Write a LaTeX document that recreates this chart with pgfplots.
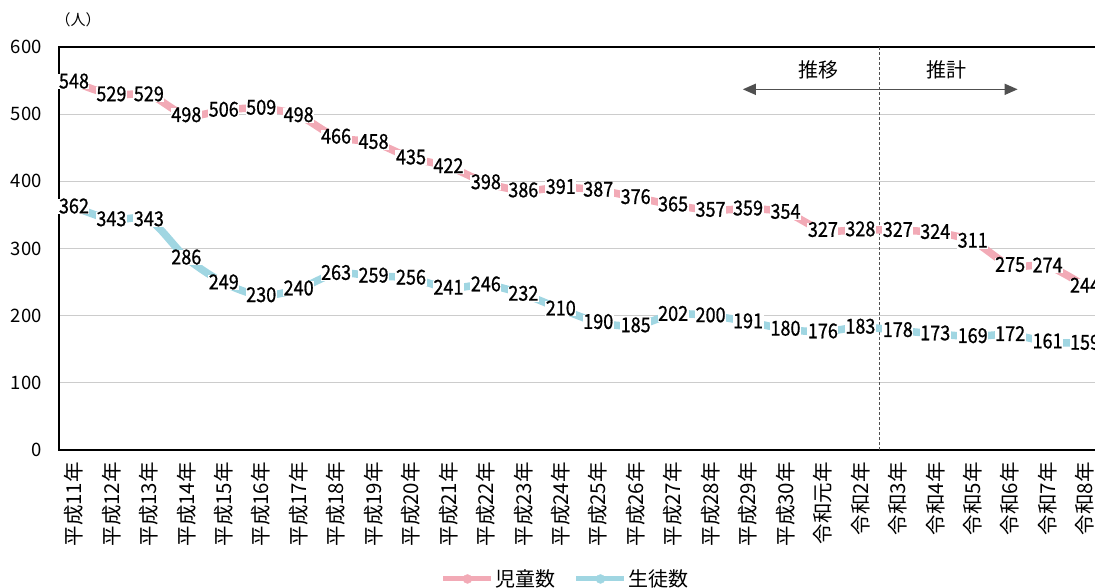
\documentclass[border=0pt]{standalone}
\usepackage{fontspec}
\setmainfont{Noto Sans CJK JP}
\newfontfamily\lblfont{Noto Sans CJK JP}[FakeStretch=0.88, FakeBold=0.8]
\usepackage{pgfplots}
\usepackage{pgfplotstable}
\pgfplotsset{compat=1.18}
\usetikzlibrary{arrows.meta}

\definecolor{pinkline}{RGB}{242,170,182}
\definecolor{blueline}{RGB}{160,214,226}
\definecolor{arrowgray}{RGB}{80,80,80}

% 児童数 / 生徒数 by year
\pgfplotstableread{
x jido seito
0  548 362
1  529 343
2  529 343
3  498 286
4  506 249
5  509 230
6  498 240
7  466 263
8  458 259
9  435 256
10 422 241
11 398 246
12 386 232
13 391 210
14 387 190
15 376 185
16 365 202
17 357 200
18 359 191
19 354 180
20 327 176
21 328 183
22 327 178
23 324 173
24 311 169
25 275 172
26 274 161
27 244 159
}\data

\tikzset{datalabel/.style={anchor=center, fill=white, inner xsep=0.5pt,
    inner ysep=1pt, text height=0.72em, text depth=0pt,
    text=black, font=\lblfont\fontsize{20.5}{24}\selectfont}}

\begin{document}
\fontsize{18}{21}\selectfont
\begin{tikzpicture}
\begin{axis}[
  scale only axis,
  width=1041pt, height=403pt,
  xmin=-0.4, xmax=27.4, ymin=0, ymax=600,
  ytick={0,100,...,600},
  xtick={0,...,27},
  xticklabels={平成11年,平成12年,平成13年,平成14年,平成15年,平成16年,平成17年,平成18年,平成19年,平成20年,平成21年,平成22年,平成23年,平成24年,平成25年,平成26年,平成27年,平成28年,平成29年,平成30年,令和元年,令和2年,令和3年,令和4年,令和5年,令和6年,令和7年,令和8年},
  xticklabel style={rotate=90, anchor=east, inner sep=0pt,
    font=\fontsize{20.5}{24}\selectfont},
  xticklabel shift=12pt,
  yticklabel style={anchor=east, inner sep=0pt,
    font=\fontsize{18.5}{21}\selectfont},
  yticklabel shift=17pt,
  major tick length=0pt,
  ymajorgrids,
  grid style={draw=black!20, line width=1.2pt},
  axis line style={line width=1.5pt},
  /pgf/number format/assume math mode=true,
  legend image code/.code={
    \draw[line width=5pt,#1] (0pt,0pt) -- (48pt,0pt);
    \fill[#1] (24pt,0pt) circle (4.5pt);
  },
  legend columns=2,
  legend style={at={(axis description cs:0.487,-0.32)}, anchor=center,
    draw=none, fill=none, font=\fontsize{20}{23}\selectfont,
    /tikz/every even column/.append style={column sep=16pt}},
]
% boundary between actual figures and projections
\draw[arrowgray, line width=1pt, dash pattern=on 3pt off 2pt]
  (axis cs:21.5,0) -- (axis cs:21.5,600);

\addplot[forget plot, blueline, line width=7.5pt, smooth, tension=0.5,
  nodes near coords, every node near coord/.style={datalabel}]
  table[x=x, y=seito] {\data};
\addplot[forget plot, pinkline, line width=7.5pt, smooth, tension=0.5,
  nodes near coords, every node near coord/.style={datalabel}]
  table[x=x, y=jido] {\data};

\addlegendimage{color=pinkline}
\addlegendentry{児童数}
\addlegendimage{color=blueline}
\addlegendentry{生徒数}

\draw[arrowgray, line width=1.5pt,
  {Triangle[length=13pt,width=11pt]}-{Triangle[length=13pt,width=11pt]}]
  (axis cs:17.86,537) -- (axis cs:25.2,537);
\node[font=\fontsize{20}{23}\selectfont] at (axis cs:19.87,566) {推移};
\node[font=\fontsize{20}{23}\selectfont] at (axis cs:23.3,566) {推計};
\end{axis}
% unit caption above the y axis
\node[font=\fontsize{15}{18}\selectfont] at (19pt,430pt) {（人）};
\pgfresetboundingbox
\path[use as bounding box] (-59pt,-137pt) rectangle (1036pt,450pt);
\end{tikzpicture}
\end{document}
